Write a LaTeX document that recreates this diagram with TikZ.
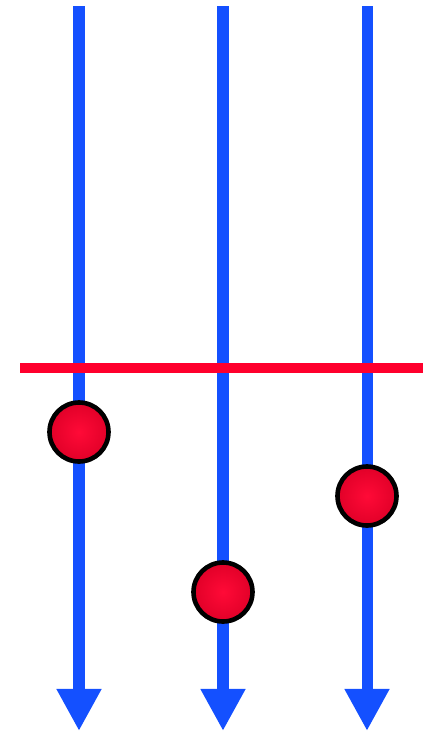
\documentclass[tikz,border=0pt]{standalone}
\usetikzlibrary{arrows.meta}

\definecolor{axisblue}{RGB}{20,80,255}
\definecolor{cutred}{RGB}{255,0,45}
\definecolor{ballred}{RGB}{225,0,40}
\definecolor{balllight}{RGB}{255,10,55}

\tikzstyle{ball} = [circle, minimum size=1.475cm, inner sep=0pt, draw=black, line width=0.115cm, inner color=balllight, outer color=ballred]
\tikzstyle{flow} = [-{Triangle[width=1.05cm, length=1.05cm]}, draw=axisblue, fill=axisblue, line width=0.275cm]
\tikzstyle{cutline} = [-, draw=cutred, line width=0.26cm]

\begin{document}
\begin{tikzpicture}[x=0.025cm, y=-0.025cm]
    \useasboundingbox (0,0) rectangle (423,733);

    \coordinate (top1) at (79,6);
    \coordinate (top2) at (223,6);
    \coordinate (top3) at (367,6);
    \coordinate (end1) at (79,731);
    \coordinate (end2) at (223,731);
    \coordinate (end3) at (367,731);

    \draw [flow] (top1) -- (end1);
    \draw [flow] (top2) -- (end2);
    \draw [flow] (top3) -- (end3);

    \coordinate (cutL) at (20,368);
    \coordinate (cutR) at (423,368);
    \draw [cutline] (cutL) -- (cutR);

    \node (ballA) [ball] at (79,432) {};
    \node (ballB) [ball] at (223,592) {};
    \node (ballC) [ball] at (367,496) {};
\end{tikzpicture}
\end{document}
